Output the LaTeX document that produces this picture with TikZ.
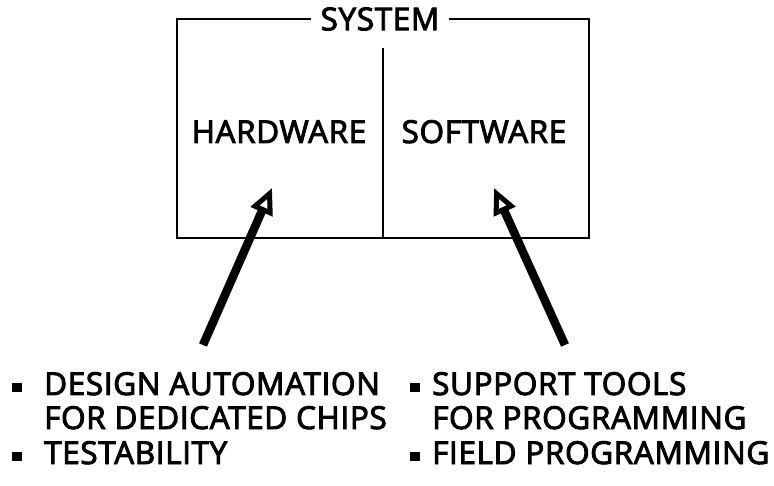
\documentclass[tikz,border=0pt]{standalone}
\usepackage{fontspec}
\setmainfont{Open Sans}[FakeBold=3, LetterSpace=2]
\usetikzlibrary{arrows.meta}
\begin{document}
\begin{tikzpicture}[x=1pt,y=-1pt,
  label/.style={font=\fontsize{31.5}{34}\selectfont, inner sep=0pt},
  frame/.style={line width=2.8pt},
  sq/.style={fill=black, minimum width=10pt, minimum height=9pt, inner sep=0pt},
  bigarrow/.style={line width=8.5pt, -{Triangle[open, length=26pt, width=23pt, line width=5pt]}}]
  \useasboundingbox (0,0) rectangle (774,486);

  % system frame with the title set into its top edge
  \draw[frame] (177,19) rectangle (589,238);
  \node[label, fill=white, inner xsep=10pt, inner ysep=2pt] (sys) at (380,19) {SYSTEM};
  \coordinate (divtop) at (383,48);
  \coordinate (divbot) at (383,238);
  \draw[line width=2.2pt] (divtop) -- (divbot);

  % the two halves
  \node[label, anchor=base] (hw) at (279,143) {HARDWARE};
  \node[label, anchor=base] (sw) at (484,143) {SOFTWARE};

  % left list
  \node[sq] (b1) at (17,387) {};
  \node[label, anchor=base west] (d1) at (44,395) {DESIGN AUTOMATION};
  \node[label, anchor=base west] (d2) at (44,429) {FOR DEDICATED CHIPS};
  \node[sq] (b2) at (17,456) {};
  \node[label, anchor=base west] (d3) at (44,464) {TESTABILITY};

  % right list
  \node[sq] (b3) at (415,387) {};
  \node[label, anchor=base west] (s1) at (432,395) {SUPPORT TOOLS};
  \node[label, anchor=base west] (s2) at (432,429) {FOR PROGRAMMING};
  \node[sq] (b4) at (415,456) {};
  \node[label, anchor=base west] (s3) at (432,464) {FIELD PROGRAMMING};

  % arrows from the lists up into the frame
  \coordinate (hwtail) at (203,345);
  \coordinate (hwtip) at (272,188);
  \coordinate (swtail) at (565,345);
  \coordinate (swtip) at (494,188);
  \draw[bigarrow] (hwtail) -- (hwtip);
  \draw[bigarrow] (swtail) -- (swtip);
\end{tikzpicture}
\end{document}
